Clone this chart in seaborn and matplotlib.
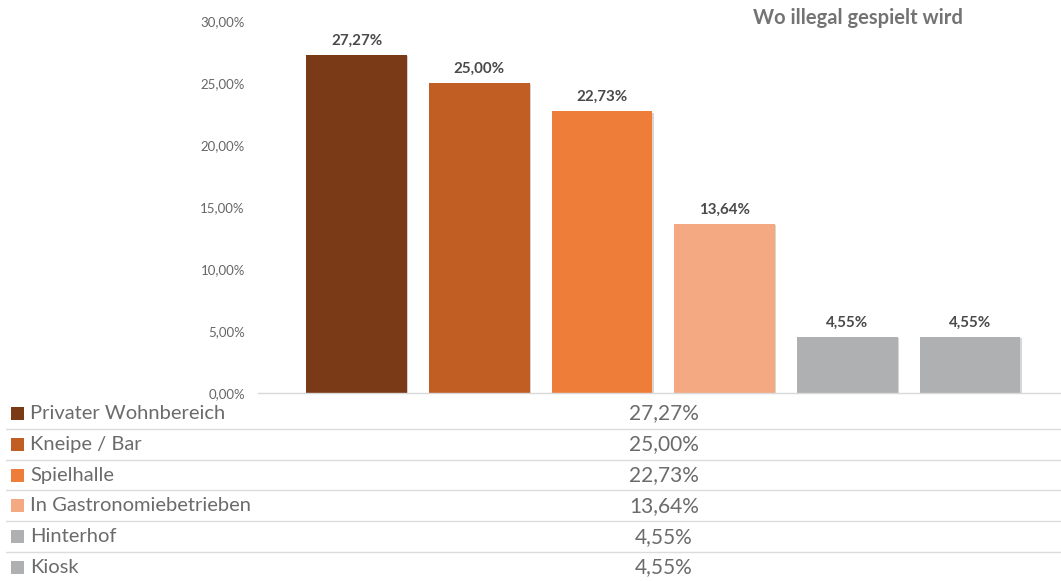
import matplotlib
matplotlib.use("Agg")
import matplotlib.pyplot as plt
import matplotlib.patheffects as pe
import seaborn as sns
import pandas as pd
from matplotlib.ticker import FixedLocator, FuncFormatter
from matplotlib.lines import Line2D
from matplotlib.patches import Rectangle

# Data
categories = ["Privater Wohnbereich", "Kneipe / Bar", "Spielhalle",
              "In Gastronomiebetrieben", "Hinterhof", "Kiosk"]
shares = [27.27, 25.00, 22.73, 13.64, 4.55, 4.55]
colors = ["#7A3A18", "#C05E24", "#EF7D3A", "#F4A982", "#AEB0B1", "#AEB0B1"]
y_ticks = [0, 5, 10, 15, 20, 25, 30]
title = "Wo illegal gespielt wird"


def de_pct(v):
    return f"{v:.2f}".replace(".", ",") + "%"


sns.set_theme(style="white")
plt.rcParams["font.family"] = ["Lato", "DejaVu Sans"]

W, H = 1061, 581
fig = plt.figure(figsize=(W / 100, H / 100), dpi=100)


def fx(px):
    return px / W


def fy(py):
    return 1 - py / H


# Bar chart area
ax = fig.add_axes([fx(258), fy(393), fx(1061) - fx(258), fy(21) - fy(393)])
df = pd.DataFrame({"Ort": categories, "Anteil": shares})
sns.barplot(data=df, x="Ort", y="Anteil", hue="Ort", order=categories,
            hue_order=categories, palette=colors, width=0.82, dodge=False,
            saturation=1, legend=False, linewidth=0, ax=ax)

shadow = [pe.SimplePatchShadow(offset=(1.0, -1.0), alpha=0.2), pe.Normal()]
for bar in ax.patches:
    bar.set_path_effects(shadow)

ax.set_xlim(-0.803, 5.742)
ax.set_ylim(0, 30)
ax.yaxis.set_major_locator(FixedLocator(y_ticks))
ax.yaxis.set_major_formatter(FuncFormatter(lambda v, _: de_pct(v)))
ax.tick_params(axis="y", length=0, pad=9.5, labelsize=9.5, labelcolor="#666666")
ax.tick_params(axis="x", length=0, labelbottom=False)
ax.set_xlabel("")
ax.set_ylabel("")
for side in ["left", "right", "top"]:
    ax.spines[side].set_visible(False)
ax.spines["bottom"].set_color("#D9D9D9")
ax.spines["bottom"].set_linewidth(1.0)

for container in ax.containers:
    ax.bar_label(container, labels=[de_pct(v) for v in container.datavalues],
                 padding=5, fontsize=10.9, fontweight="bold", color="#4A4A4A")

fig.text(fx(963), fy(18), title, ha="right", va="center", fontsize=14.5,
         fontweight="bold", color="#737373")

# Data table below the chart
row_top = 398
row_h = 30.8
for i, (cat, val, col) in enumerate(zip(categories, shares, colors)):
    yc = row_top + row_h * (i + 0.5)
    fig.patches.append(Rectangle((fx(11), fy(yc + 6.5)), fx(13), 13 / H,
                                 transform=fig.transFigure, facecolor=col,
                                 edgecolor="none"))
    fig.text(fx(30), fy(yc), cat, ha="left", va="center", fontsize=14.5,
             color="#6B6B6B")
    fig.text(fx(664), fy(yc), de_pct(val), ha="center", va="center",
             fontsize=15, color="#6B6B6B")
    if i < len(categories) - 1:
        yl = fy(row_top + row_h * (i + 1))
        fig.lines.append(Line2D([fx(6), 1], [yl, yl], transform=fig.transFigure,
                                color="#DCDCDC", linewidth=1.0))

fig.savefig("out.png", dpi=100)
